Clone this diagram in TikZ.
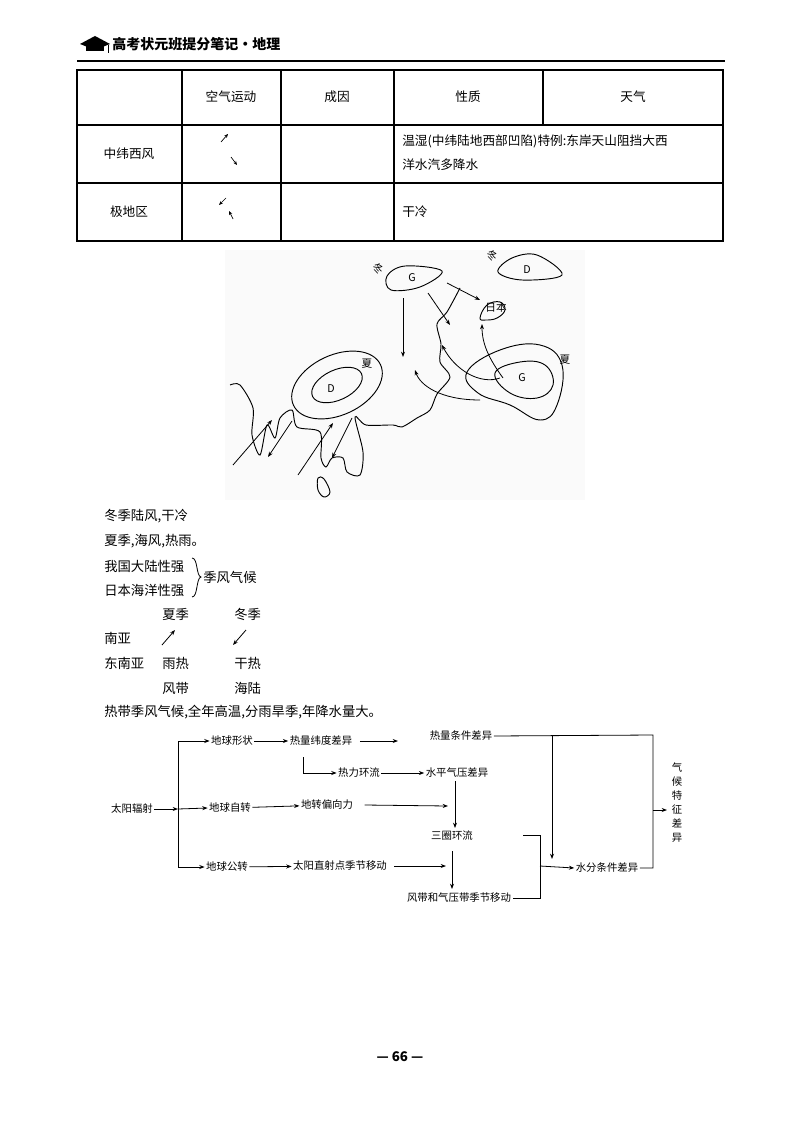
\documentclass[tikz,border=0pt]{standalone}
\usepackage{fontspec}
\setmainfont{Noto Sans CJK SC}
\usetikzlibrary{arrows.meta}
\begin{document}
\begin{tikzpicture}[x=0.75pt,y=-0.75pt,
  tb/.style={font=\fontsize{9.5}{11}\selectfont},
  nt/.style={font=\fontsize{10}{12}\selectfont,anchor=west,inner sep=0},
  fc/.style={font=\fontsize{7.8}{9}\selectfont,inner sep=1pt},
  ln/.style={line width=0.8pt},
  ar/.style={line width=0.6pt,-{Stealth[length=4pt,width=3pt]}},
  wn/.style={line width=0.5pt,-{Stealth[length=3pt,width=2.5pt]}},
  mp/.style={line width=0.7pt}]
\useasboundingbox[fill=white] (0,0) rectangle (800,1141);
% header
\fill (80,44) -- (95,36) -- (110,44) -- (95,50) -- cycle;
\fill (86,46) rectangle (104,51);
\draw[line width=0.5pt] (108,45) -- (108,53);
\node[anchor=west,inner sep=0,font=\fontsize{10.5}{12}\selectfont\bfseries] (hd) at (112,44) {高考状元班提分笔记·地理};
\draw[line width=1.2pt] (77,61) -- (725,61);
% table
\draw[ln] (77,70) rectangle (723,241);
\draw[ln] (77,125) -- (723,125) (77,183) -- (723,183);
\draw[ln] (182,70) -- (182,241) (281,70) -- (281,241) (394,70) -- (394,241) (543,70) -- (543,125);
\node[tb] (h1) at (231,97) {空气运动};
\node[tb] (h2) at (337,97) {成因};
\node[tb] (h3) at (468,97) {性质};
\node[tb] (h4) at (633,97) {天气};
\node[tb] (r1) at (129,154) {中纬西风};
\node[tb] (r2) at (129,212) {极地区};
\node[tb,anchor=west,inner sep=0] (t1) at (402,141) {温湿(中纬陆地西部凹陷)特例:东岸天山阻挡大西};
\node[tb,anchor=west,inner sep=0] (t2) at (402,165) {洋水汽多降水};
\node[tb,anchor=west,inner sep=0] (t3) at (402,212) {干冷};
\coordinate (a1) at (221,142); \coordinate (a2) at (228,134);
\coordinate (a3) at (231,157); \coordinate (a4) at (237,165);
\coordinate (a5) at (226,198); \coordinate (a6) at (219,205);
\coordinate (a7) at (233,219); \coordinate (a8) at (229,211);
\draw[wn] (a1) -- (a2); \draw[wn] (a3) -- (a4);
\draw[wn] (a5) -- (a6); \draw[wn] (a7) -- (a8);
% map
\fill[gray!4] (225,250) rectangle (585,500);
\draw[mp] plot[smooth cycle,tension=0.6] coordinates {(387,276) (405,266) (442,271) (420,287) (391,290)};
\node[font=\fontsize{8}{9}\selectfont,inner sep=0] (mg1) at (412,278) {G};
\node[font=\fontsize{8}{9}\selectfont,inner sep=0,rotate=-30] (mw1) at (378,269) {冬};
\draw[mp] plot[smooth cycle,tension=0.6] coordinates {(498,272) (512,258) (537,255) (562,275) (522,280)};
\node[font=\fontsize{8}{9}\selectfont,inner sep=0] (md1) at (527,270) {D};
\node[font=\fontsize{8}{9}\selectfont,inner sep=0,rotate=-30] (mw2) at (492,256) {冬};
\draw[mp] plot[smooth cycle,tension=0.7] coordinates {(480,318) (487,305) (500,302) (505,310) (497,318) (486,320)};
\node[font=\fontsize{8}{9}\selectfont,inner sep=0] (mj) at (496,307) {日本};
\draw[mp,rotate around={25:(337,385)}] (337,385) ellipse (48 and 30);
\draw[mp,rotate around={25:(337,385)}] (337,385) ellipse (27 and 15);
\node[font=\fontsize{8}{9}\selectfont,inner sep=0] (md2) at (331,389) {D};
\node[font=\fontsize{8}{9}\selectfont,inner sep=0] (ms1) at (367,364) {夏};
\draw[mp] plot[smooth cycle,tension=0.7] coordinates {(467,372) (500,350) (540,345) (562,365) (557,405) (540,420) (510,405) (478,393)};
\draw[mp] plot[smooth cycle,tension=0.7] coordinates {(495,373) (520,362) (545,365) (553,385) (537,398) (510,393)};
\node[font=\fontsize{8}{9}\selectfont,inner sep=0] (mg2) at (522,378) {G};
\node[font=\fontsize{8}{9}\selectfont,inner sep=0] (ms2) at (565,360) {夏};
\draw[mp] plot[smooth,tension=0.5] coordinates {(460,288) (447,312) (437,324) (441,344) (440,362) (450,377) (437,394) (430,410) (417,418) (402,427) (393,425) (366,425) (355,417) (363,452) (360,475) (347,472) (343,458) (332,458) (326,467) (321,458) (320,432) (297,427) (292,410) (280,418) (275,438) (267,425) (260,455) (252,435) (253,408) (240,385) (230,385)};
\draw[mp] plot[smooth cycle,tension=0.6] coordinates {(318,478) (324,479) (330,492) (324,497) (318,490)};
\draw[ar] (403,298) -- (403,357);
\draw[ar] (447,283) -- (480,300);
\draw[ar] (428,293) -- (450,325);
\draw[ar] (503,378) .. controls (490,360) and (482,345) .. (482,324);
\draw[ar] (500,378) .. controls (480,385) and (455,370) .. (442,345);
\draw[ar] (480,400) .. controls (440,400) and (420,385) .. (415,370);
\draw[ar] (233,465) -- (272,420);
\draw[ar] (292,421) -- (268,457);
\draw[ar] (298,475) -- (333,423);
\draw[ar] (352,418) -- (332,458);
% notes
\node[nt] (n1) at (104,516) {冬季陆风,干冷};
\node[nt] (n2) at (104,541) {夏季,海风,热雨。};
\node[nt] (n3) at (104,566) {我国大陆性强};
\node[nt] (n4) at (104,590) {日本海洋性强};
\draw[line width=0.6pt] (192,558) .. controls (198,558) and (196,576) .. (201,577) .. controls (196,578) and (198,597) .. (192,597);
\node[nt] (n5) at (203,577) {季风气候};
\node[nt] (n6) at (162,614) {夏季};
\node[nt] (n7) at (234,614) {冬季};
\node[nt] (n8) at (104,638) {南亚};
\coordinate (b1) at (162,645); \coordinate (b2) at (175,630);
\coordinate (b3) at (246,630); \coordinate (b4) at (233,645);
\draw[ar] (b1) -- (b2); \draw[ar] (b3) -- (b4);
\node[nt] (n9) at (104,663) {东南亚};
\node[nt] (n10) at (162,663) {雨热};
\node[nt] (n11) at (234,663) {干热};
\node[nt] (n12) at (162,688) {风带};
\node[nt] (n13) at (234,688) {海陆};
\node[nt] (n14) at (104,712) {热带季风气候,全年高温,分雨旱季,年降水量大。};
% flowchart
\node[fc] (f0) at (132,809) {太阳辐射};
\node[fc] (f1) at (232,741) {地球形状};
\node[fc] (f2) at (230,808) {地球自转};
\node[fc] (f3) at (227,867) {地球公转};
\node[fc] (f4) at (321,741) {热量纬度差异};
\node[fc] (f5) at (359,773) {热力环流};
\node[fc] (f6) at (457,773) {水平气压差异};
\node[fc] (f7) at (461,736) {热量条件差异};
\node[fc] (f8) at (327,805) {地转偏向力};
\node[fc] (f9) at (452,836) {三圈环流};
\node[fc] (f10) at (340,866) {太阳直射点季节移动};
\node[fc] (f11) at (459,898) {风带和气压带季节移动};
\node[fc] (f12) at (607,868) {水分条件差异};
\node[fc,align=center,font=\fontsize{7.8}{10.5}\selectfont] (f13) at (677,803) {气\\候\\特\\征\\差\\异};
\coordinate (j0) at (178,809);
\draw[ar] (f0) -- (j0);
\draw[ar] (178,741) |- (f3.west);
\draw[ar] (178,741) -- (f1.west);
\draw[ar] (j0) -- (f2.west);
\draw[ar] (f1) -- (f4);
\draw[ar] (f4.east) ++(6,0) -- (398,741);
\draw[ar] (303,757) |- (f5.west);
\draw[ar] (f5) -- (f6);
\draw[ar] (f2) -- (f8);
\draw[ar] (f8.east) ++(10,0) -- (448,806);
\draw[ar] (455,781) -- (455,828);
\draw[ar] (452,851) -- (452,889);
\draw[ar] (f3) -- (f10);
\draw[ar] (f10.east) ++(6,0) -- (446,866);
\draw[ln,line width=0.6pt] (f7.east) -- (653,735) |- (f12.east);
\draw[ar] (552,735) -- (552,859);
\draw[ar] (653,810) -- (667,810);
\draw[line width=0.6pt] (523,835) -- (540,835) |- (f11.east);
\draw[ar] (540,866) -- (f12.west);
% page number
\node[font=\fontsize{10}{12}\selectfont\bfseries] (pg) at (400,1057) {— 66 —};
\end{tikzpicture}
\end{document}
